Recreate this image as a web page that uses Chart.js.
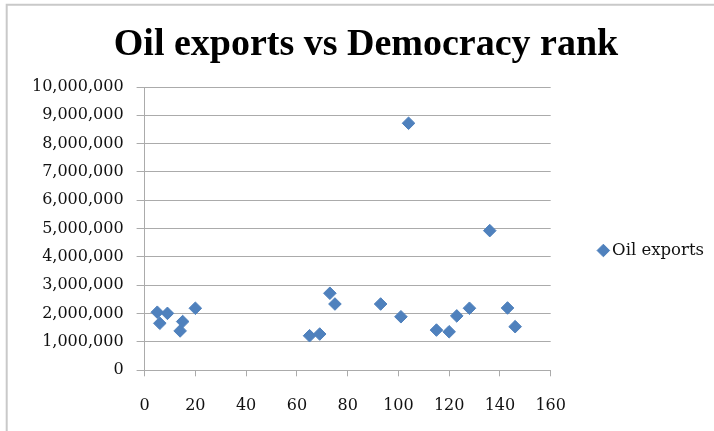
<!DOCTYPE html>
<html>
<head>
<meta charset="utf-8">
<script src="https://cdn.jsdelivr.net/npm/chart.js@4"></script>
<style>
  html, body { margin: 0; padding: 0; background: #ffffff; }
  #wrap { width: 714px; height: 431px; position: relative; }
</style>
</head>
<body>
<div id="wrap"><canvas id="c" width="714" height="431"></canvas></div>
<script>
const chartTitle = 'Oil exports vs Democracy rank';
const seriesName = 'Oil exports';
const democracyRank = [5, 6, 9, 14, 15, 20, 65, 69, 73, 75, 93, 101, 104, 115, 120, 123, 128, 136, 143, 146];
const oilExports = [2050000, 1660000, 2010000, 1390000, 1720000, 2190000, 1220000, 1280000, 2720000, 2340000,
                    2340000, 1890000, 8720000, 1420000, 1360000, 1920000, 2190000, 4930000, 2200000, 1540000];
const xTicks = [0, 20, 40, 60, 80, 100, 120, 140, 160];
const yTicks = [0, 1000000, 2000000, 3000000, 4000000, 5000000, 6000000, 7000000, 8000000, 9000000, 10000000];

const points = democracyRank.map((x, i) => ({ x: x, y: oilExports[i] }));

const frame = {
  id: 'frame',
  beforeDraw(chart) {
    const ctx = chart.ctx;
    ctx.save();
    ctx.fillStyle = '#ffffff';
    ctx.fillRect(0, 0, chart.width, chart.height);
    ctx.strokeStyle = '#c9c9c9';
    ctx.lineWidth = 2;
    ctx.beginPath();
    ctx.moveTo(6.7, chart.height);
    ctx.lineTo(6.7, 4.7);
    ctx.lineTo(chart.width, 4.7);
    ctx.stroke();
    ctx.restore();
  }
};

const gridColor = '#ababab';
const tickFont = { family: 'DejaVu Serif', size: 16 };

new Chart(document.getElementById('c'), {
  type: 'scatter',
  data: {
    datasets: [{
      label: seriesName,
      data: points,
      pointStyle: 'rectRot',
      pointRadius: 6.3,
      pointHoverRadius: 6.3,
      backgroundColor: '#4F81BD',
      borderColor: '#4F81BD',
      borderWidth: 1
    }]
  },
  options: {
    responsive: false,
    animation: false,
    devicePixelRatio: 1,
    layout: { padding: { left: 18, right: 0, top: 0, bottom: 16.7 } },
    plugins: {
      tooltip: { enabled: false },
      title: {
        display: true,
        text: chartTitle,
        color: '#000000',
        font: { family: 'Liberation Serif', size: 38, weight: 'bold', lineHeight: 1.2 },
        padding: { top: 22.4, bottom: 19.0 }
      },
      legend: {
        display: true,
        position: 'right',
        align: 'center',
        maxWidth: 163.7,
        title: { display: true, text: '', font: { size: 10, lineHeight: 1 }, padding: { top: 76.7, bottom: 0 } },
        labels: {
          usePointStyle: true,
          boxWidth: 1,
          boxHeight: 8.9,
          padding: 52.2,
          color: '#111111',
          font: { family: 'DejaVu Serif', size: 16.5 }
        }
      }
    },
    scales: {
      x: {
        type: 'linear',
        min: xTicks[0],
        max: xTicks[xTicks.length - 1],
        afterBuildTicks: (scale) => { scale.ticks = xTicks.map(v => ({ value: v })); },
        afterFit: (scale) => { scale.height = 44; },
        ticks: { color: '#111111', font: tickFont, padding: 20, maxRotation: 0 },
        grid: { drawOnChartArea: false, drawTicks: true, tickLength: 6, color: gridColor, lineWidth: 1 },
        border: { display: true, color: gridColor, width: 1 }
      },
      y: {
        type: 'linear',
        min: yTicks[0],
        max: yTicks[yTicks.length - 1],
        afterBuildTicks: (scale) => { scale.ticks = yTicks.map(v => ({ value: v })); },
        afterFit: (scale) => { scale.width = 126.6; },
        ticks: {
          color: '#111111',
          font: tickFont,
          padding: 13,
          callback: (v) => Number(v).toLocaleString('en-US')
        },
        grid: { drawOnChartArea: true, drawTicks: true, tickLength: 8, color: gridColor, lineWidth: 1 },
        border: { display: true, color: gridColor, width: 1 }
      }
    }
  },
  plugins: [frame]
});
</script>
</body>
</html>
